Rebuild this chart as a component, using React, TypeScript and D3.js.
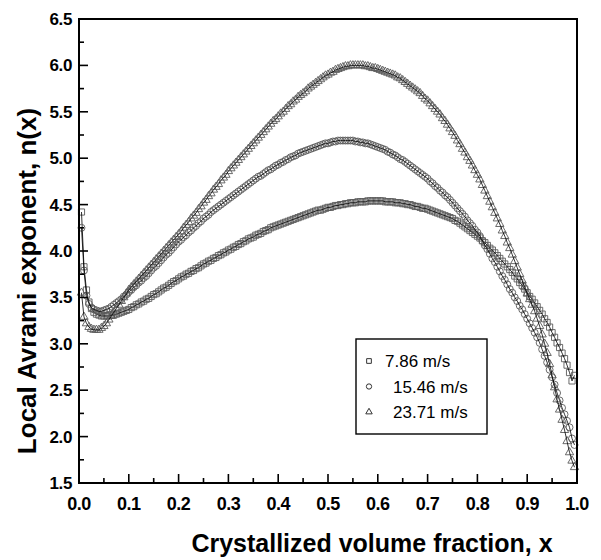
import React, { useEffect, useRef } from "react";
import * as d3 from "d3";

// ---------- data ----------
const X_STEP = 0.005; // sampling step of the crystallized fraction
const X_TICKS = [0, 0.1, 0.2, 0.3, 0.4, 0.5, 0.6, 0.7, 0.8, 0.9, 1.0];
const X_TICK_LABELS = ["0.0", "0.1", "0.2", "0.3", "0.4", "0.5", "0.6", "0.7", "0.8", "0.9", "1.0"];
const Y_TICKS = [1.5, 2.0, 2.5, 3.0, 3.5, 4.0, 4.5, 5.0, 5.5, 6.0, 6.5];
const Y_TICK_LABELS = ["1.5", "2.0", "2.5", "3.0", "3.5", "4.0", "4.5", "5.0", "5.5", "6.0", "6.5"];

const SERIES_NAMES = ["7.86 m/s", "15.46 m/s", "23.71 m/s"];

const N_786 = [
  4.42, 3.83, 3.58, 3.45, 3.38, 3.34, 3.32, 3.31, 3.30, 3.30,
  3.30, 3.30, 3.31, 3.31, 3.32, 3.33, 3.34, 3.35, 3.36, 3.37,
  3.39, 3.40, 3.42, 3.43, 3.45, 3.46, 3.48, 3.49, 3.51, 3.53,
  3.54, 3.56, 3.58, 3.60, 3.61, 3.63, 3.65, 3.67, 3.68, 3.70,
  3.72, 3.73, 3.75, 3.76, 3.78, 3.79, 3.81, 3.82, 3.84, 3.86,
  3.87, 3.89, 3.90, 3.92, 3.93, 3.95, 3.96, 3.98, 3.99, 4.01,
  4.02, 4.04, 4.05, 4.07, 4.08, 4.10, 4.11, 4.13, 4.14, 4.15,
  4.17, 4.18, 4.19, 4.21, 4.22, 4.23, 4.25, 4.26, 4.27, 4.28,
  4.29, 4.30, 4.31, 4.32, 4.33, 4.34, 4.35, 4.36, 4.37, 4.38,
  4.39, 4.40, 4.41, 4.42, 4.43, 4.44, 4.44, 4.45, 4.46, 4.47,
  4.47, 4.48, 4.49, 4.49, 4.50, 4.50, 4.51, 4.51, 4.52, 4.52,
  4.52, 4.53, 4.53, 4.53, 4.53, 4.54, 4.54, 4.54, 4.54, 4.54,
  4.54, 4.54, 4.53, 4.53, 4.53, 4.53, 4.52, 4.52, 4.52, 4.51,
  4.51, 4.50, 4.50, 4.49, 4.48, 4.48, 4.47, 4.46, 4.46, 4.45,
  4.44, 4.43, 4.42, 4.41, 4.40, 4.39, 4.38, 4.37, 4.36, 4.35,
  4.33, 4.32, 4.30, 4.28, 4.26, 4.24, 4.22, 4.20, 4.18, 4.16,
  4.14, 4.11, 4.09, 4.06, 4.03, 4.01, 3.98, 3.95, 3.92, 3.89,
  3.86, 3.83, 3.80, 3.77, 3.73, 3.70, 3.66, 3.63, 3.59, 3.55,
  3.51, 3.48, 3.44, 3.40, 3.36, 3.32, 3.27, 3.23, 3.18, 3.12,
  3.07, 3.01, 2.96, 2.90, 2.84, 2.77, 2.69, 2.60, 2.66,
];

const N_1546 = [
  4.25, 3.79, 3.52, 3.43, 3.39, 3.37, 3.36, 3.35, 3.35, 3.36,
  3.37, 3.38, 3.40, 3.42, 3.44, 3.46, 3.48, 3.51, 3.53, 3.56,
  3.58, 3.61, 3.63, 3.66, 3.68, 3.71, 3.73, 3.76, 3.79, 3.82,
  3.84, 3.87, 3.90, 3.93, 3.96, 3.98, 4.01, 4.04, 4.07, 4.10,
  4.12, 4.15, 4.17, 4.20, 4.22, 4.25, 4.27, 4.30, 4.32, 4.35,
  4.37, 4.39, 4.42, 4.44, 4.46, 4.48, 4.50, 4.52, 4.54, 4.56,
  4.58, 4.60, 4.62, 4.64, 4.66, 4.68, 4.70, 4.72, 4.74, 4.76,
  4.78, 4.80, 4.81, 4.83, 4.85, 4.87, 4.88, 4.90, 4.92, 4.93,
  4.95, 4.96, 4.98, 4.99, 5.01, 5.02, 5.03, 5.05, 5.06, 5.07,
  5.08, 5.09, 5.10, 5.11, 5.12, 5.13, 5.14, 5.15, 5.16, 5.16,
  5.17, 5.18, 5.18, 5.19, 5.19, 5.19, 5.19, 5.19, 5.19, 5.19,
  5.18, 5.18, 5.17, 5.17, 5.16, 5.16, 5.15, 5.14, 5.13, 5.12,
  5.11, 5.10, 5.09, 5.07, 5.06, 5.04, 5.03, 5.01, 4.99, 4.98,
  4.96, 4.94, 4.92, 4.90, 4.88, 4.86, 4.84, 4.82, 4.80, 4.78,
  4.75, 4.73, 4.70, 4.68, 4.65, 4.63, 4.60, 4.58, 4.55, 4.52,
  4.49, 4.46, 4.43, 4.40, 4.37, 4.33, 4.30, 4.27, 4.23, 4.20,
  4.16, 4.11, 4.06, 4.02, 3.97, 3.92, 3.88, 3.83, 3.78, 3.73,
  3.69, 3.64, 3.59, 3.55, 3.50, 3.46, 3.41, 3.37, 3.32, 3.27,
  3.22, 3.17, 3.12, 3.07, 3.01, 2.94, 2.87, 2.80, 2.72, 2.64,
  2.56, 2.47, 2.39, 2.31, 2.24, 2.17, 2.10, 1.98, 1.91,
];

const N_2371 = [
  3.55, 3.29, 3.22, 3.18, 3.16, 3.15, 3.15, 3.15, 3.17, 3.19,
  3.22, 3.26, 3.30, 3.34, 3.38, 3.42, 3.46, 3.50, 3.54, 3.58,
  3.61, 3.64, 3.67, 3.70, 3.73, 3.76, 3.79, 3.82, 3.85, 3.88,
  3.91, 3.94, 3.97, 4.00, 4.03, 4.06, 4.09, 4.12, 4.15, 4.18,
  4.21, 4.25, 4.28, 4.31, 4.35, 4.38, 4.41, 4.45, 4.48, 4.52,
  4.55, 4.59, 4.62, 4.66, 4.69, 4.72, 4.76, 4.79, 4.82, 4.86,
  4.89, 4.92, 4.95, 4.98, 5.01, 5.04, 5.07, 5.10, 5.13, 5.16,
  5.19, 5.22, 5.25, 5.28, 5.31, 5.34, 5.37, 5.40, 5.42, 5.45,
  5.48, 5.50, 5.53, 5.56, 5.58, 5.61, 5.63, 5.66, 5.68, 5.70,
  5.72, 5.75, 5.77, 5.79, 5.81, 5.83, 5.85, 5.87, 5.89, 5.90,
  5.92, 5.93, 5.95, 5.96, 5.97, 5.98, 5.99, 5.99, 6.00, 6.00,
  6.00, 6.00, 6.00, 6.00, 5.99, 5.99, 5.98, 5.97, 5.97, 5.96,
  5.95, 5.94, 5.93, 5.92, 5.91, 5.90, 5.89, 5.87, 5.86, 5.84,
  5.82, 5.80, 5.78, 5.76, 5.74, 5.72, 5.70, 5.67, 5.64, 5.62,
  5.59, 5.56, 5.53, 5.50, 5.47, 5.43, 5.40, 5.36, 5.32, 5.28,
  5.24, 5.19, 5.15, 5.10, 5.06, 5.01, 4.97, 4.92, 4.87, 4.82,
  4.77, 4.71, 4.65, 4.59, 4.53, 4.47, 4.41, 4.35, 4.29, 4.22,
  4.16, 4.09, 4.03, 3.96, 3.89, 3.82, 3.75, 3.68, 3.61, 3.54,
  3.48, 3.42, 3.35, 3.27, 3.19, 3.10, 3.00, 2.90, 2.78, 2.66,
  2.53, 2.40, 2.29, 2.18, 2.07, 1.95, 1.83, 1.74, 1.67,
];

const SERIES_VALUES = [N_786, N_1546, N_2371];

// ---------- layout ----------
const W = 601;
const H = 560;
const PLOT = { left: 79, right: 577, top: 19, bottom: 483 };
const FONT = "'Liberation Sans', Arial, Helvetica, sans-serif";
const SYMBOLS = [d3.symbolSquare, d3.symbolCircle, d3.symbolTriangle];
const SYMBOL_SIZES = [38, 38, 30];
const LEGEND_SIZES = [22, 22, 18];

export default function App() {
  const ref = useRef<SVGSVGElement>(null);

  useEffect(() => {
    const svg = d3.select(ref.current);
    svg.selectAll("*").remove();

    const x = d3.scaleLinear().domain([0, 1]).range([PLOT.left, PLOT.right]);
    const y = d3.scaleLinear().domain([1.5, 6.5]).range([PLOT.bottom, PLOT.top]);

    svg.append("rect").attr("width", W).attr("height", H).attr("fill", "#fff");

    // series
    const line = d3
      .line<number>()
      .x((_, i) => x((i + 1) * X_STEP))
      .y((d) => y(d));

    SERIES_VALUES.forEach((vals, si) => {
      const g = svg.append("g");
      const sym = d3.symbol().type(SYMBOLS[si]).size(SYMBOL_SIZES[si]);
      g.selectAll("path.m")
        .data(vals)
        .enter()
        .append("path")
        .attr("class", "m")
        .attr("d", sym() as string)
        .attr("transform", (d, i) => `translate(${x((i + 1) * X_STEP)},${y(d)})`)
        .attr("fill", "none")
        .attr("stroke", "#5a5a5a")
        .attr("stroke-width", 0.9);
      g.append("path")
        .attr("d", line(vals) as string)
        .attr("fill", "none")
        .attr("stroke", "#000")
        .attr("stroke-width", 0.8);
    });

    // frame
    svg
      .append("rect")
      .attr("x", PLOT.left)
      .attr("y", PLOT.top)
      .attr("width", PLOT.right - PLOT.left)
      .attr("height", PLOT.bottom - PLOT.top)
      .attr("fill", "none")
      .attr("stroke", "#000")
      .attr("stroke-width", 2);

    // x ticks (inward)
    const xMinor = d3.range(0, 1.0001, 0.05);
    xMinor.forEach((v, i) => {
      const major = i % 2 === 0;
      svg
        .append("line")
        .attr("x1", x(v))
        .attr("x2", x(v))
        .attr("y1", PLOT.bottom)
        .attr("y2", PLOT.bottom - (major ? 9 : 5))
        .attr("stroke", "#000")
        .attr("stroke-width", 1.6);
    });
    X_TICKS.forEach((v, i) => {
      svg
        .append("text")
        .attr("x", x(v))
        .attr("y", 510)
        .attr("text-anchor", "middle")
        .attr("font-family", FONT)
        .attr("font-weight", "bold")
        .attr("font-size", 18)
        .attr("letter-spacing", -0.5)
        .text(X_TICK_LABELS[i]);
    });

    // y ticks (inward)
    const yMinor = d3.range(1.5, 6.5001, 0.25);
    yMinor.forEach((v, i) => {
      const major = i % 2 === 0;
      svg
        .append("line")
        .attr("x1", PLOT.left)
        .attr("x2", PLOT.left + (major ? 9 : 5))
        .attr("y1", y(v))
        .attr("y2", y(v))
        .attr("stroke", "#000")
        .attr("stroke-width", 1.6);
    });
    Y_TICKS.forEach((v, i) => {
      svg
        .append("text")
        .attr("x", 72)
        .attr("y", y(v) + 6)
        .attr("text-anchor", "end")
        .attr("font-family", FONT)
        .attr("font-weight", "bold")
        .attr("font-size", 17)
        .attr("letter-spacing", -0.4)
        .text(Y_TICK_LABELS[i]);
    });

    // axis titles
    svg
      .append("text")
      .attr("x", 372)
      .attr("y", 552)
      .attr("text-anchor", "middle")
      .attr("font-family", FONT)
      .attr("font-weight", "bold")
      .attr("font-size", 25)
      .text("Crystallized volume fraction, x");
    svg
      .append("text")
      .attr("transform", "translate(36,281) rotate(-90)")
      .attr("text-anchor", "middle")
      .attr("font-family", FONT)
      .attr("font-weight", "bold")
      .attr("font-size", 26)
      .text("Local Avrami exponent, n(x)");

    // legend
    const lg = svg.append("g");
    lg.append("rect")
      .attr("x", 356)
      .attr("y", 339)
      .attr("width", 131)
      .attr("height", 95)
      .attr("fill", "#fff")
      .attr("stroke", "#000")
      .attr("stroke-width", 1.4);
    const textX = [385, 393, 393];
    SERIES_NAMES.forEach((name, i) => {
      const cy = 361 + i * 25.5;
      lg.append("path")
        .attr("d", d3.symbol().type(SYMBOLS[i]).size(LEGEND_SIZES[i])() as string)
        .attr("transform", `translate(369,${cy})`)
        .attr("fill", "none")
        .attr("stroke", "#333")
        .attr("stroke-width", 1);
      lg.append("text")
        .attr("x", textX[i])
        .attr("y", cy + 6)
        .attr("font-family", FONT)
        .attr("font-size", 17)
        .text(name);
    });
  }, []);

  return (
    <svg
      ref={ref}
      width={W}
      height={H}
      style={{ position: "absolute", left: 0, top: 0, display: "block" }}
    />
  );
}
